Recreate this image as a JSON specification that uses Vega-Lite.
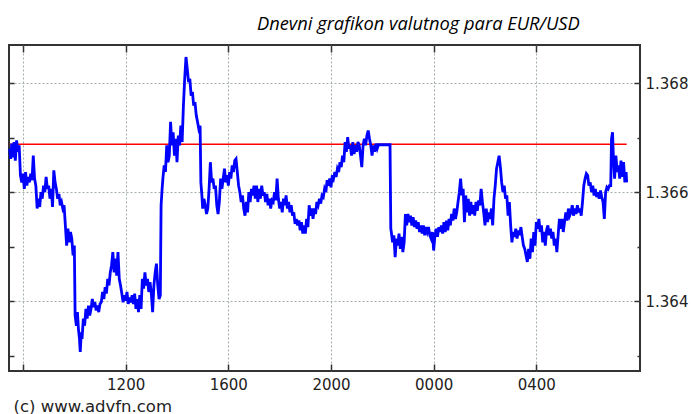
{
"$schema": "https://vega.github.io/schema/vega-lite/v6.json",
"width": 631, "height": 326,
"autosize": {"type": "none"},
"padding": {"left": 9, "top": 45, "right": 53, "bottom": 43},
"background": "white",
"title": {"text": "Dnevni grafikon valutnog para EUR/USD", "anchor": "start", "frame": "group", "dx": 248, "font": "Open Sans", "fontStyle": "italic", "fontWeight": "normal", "fontSize": 18.3, "color": "#000", "offset": 10},
"config": {"view": {"stroke": "#333", "strokeWidth": 2}},
"datasets": {
"ref": [{"h":7.48,"p":1.36688},{"h":31.52,"p":1.36688}],
"fx": [
{"h":7.48,"p":1.36680},{"h":7.52,"p":1.36661},{"h":7.56,"p":1.36689},{"h":7.6,"p":1.36664},{"h":7.65,"p":1.36692},{"h":7.7,"p":1.36658},{"h":7.75,"p":1.36695},{"h":7.8,"p":1.36674},{"h":7.85,"p":1.36686},{"h":7.9,"p":1.36631},{"h":7.95,"p":1.36618},{"h":8.0,"p":1.36634},{"h":8.05,"p":1.36606},{"h":8.1,"p":1.36637},{"h":8.15,"p":1.36612},{"h":8.2,"p":1.36628},{"h":8.25,"p":1.36618},{"h":8.3,"p":1.36634},{"h":8.35,"p":1.36622},{"h":8.4,"p":1.36667},{"h":8.45,"p":1.36625},{"h":8.5,"p":1.36612},{"h":8.55,"p":1.36570},{"h":8.6,"p":1.36588},{"h":8.65,"p":1.36573},{"h":8.7,"p":1.36600},{"h":8.75,"p":1.36588},{"h":8.8,"p":1.36612},{"h":8.85,"p":1.36600},{"h":8.9,"p":1.36628},{"h":8.95,"p":1.36606},{"h":9.0,"p":1.36612},{"h":9.05,"p":1.36588},{"h":9.1,"p":1.36606},{"h":9.15,"p":1.36573},{"h":9.2,"p":1.36640},{"h":9.25,"p":1.36618},{"h":9.3,"p":1.36606},{"h":9.35,"p":1.36588},{"h":9.4,"p":1.36597},{"h":9.45,"p":1.36576},{"h":9.5,"p":1.36582},{"h":9.55,"p":1.36570},{"h":9.6,"p":1.36576},{"h":9.65,"p":1.36539},{"h":9.7,"p":1.36502},{"h":9.75,"p":1.36533},{"h":9.8,"p":1.36508},{"h":9.85,"p":1.36527},{"h":9.9,"p":1.36515},{"h":9.95,"p":1.36484},{"h":10.0,"p":1.36502},{"h":10.03,"p":1.36374},{"h":10.08,"p":1.36355},{"h":10.12,"p":1.36380},{"h":10.16,"p":1.36349},{"h":10.2,"p":1.36331},{"h":10.23,"p":1.36307},{"h":10.27,"p":1.36343},{"h":10.3,"p":1.36331},{"h":10.35,"p":1.36368},{"h":10.4,"p":1.36355},{"h":10.45,"p":1.36386},{"h":10.5,"p":1.36368},{"h":10.55,"p":1.36392},{"h":10.6,"p":1.36374},{"h":10.65,"p":1.36386},{"h":10.7,"p":1.36404},{"h":10.75,"p":1.36389},{"h":10.8,"p":1.36398},{"h":10.85,"p":1.36383},{"h":10.9,"p":1.36392},{"h":10.95,"p":1.36380},{"h":11.0,"p":1.36395},{"h":11.05,"p":1.36398},{"h":11.1,"p":1.36417},{"h":11.15,"p":1.36404},{"h":11.2,"p":1.36426},{"h":11.25,"p":1.36414},{"h":11.3,"p":1.36441},{"h":11.35,"p":1.36429},{"h":11.4,"p":1.36453},{"h":11.45,"p":1.36466},{"h":11.5,"p":1.36490},{"h":11.55,"p":1.36453},{"h":11.6,"p":1.36478},{"h":11.65,"p":1.36447},{"h":11.7,"p":1.36490},{"h":11.75,"p":1.36441},{"h":11.8,"p":1.36429},{"h":11.85,"p":1.36414},{"h":11.9,"p":1.36398},{"h":11.95,"p":1.36411},{"h":12.0,"p":1.36401},{"h":12.05,"p":1.36417},{"h":12.1,"p":1.36395},{"h":12.15,"p":1.36407},{"h":12.2,"p":1.36398},{"h":12.25,"p":1.36411},{"h":12.3,"p":1.36395},
{"h":12.35,"p":1.36414},{"h":12.4,"p":1.36386},{"h":12.45,"p":1.36404},{"h":12.5,"p":1.36380},{"h":12.55,"p":1.36411},{"h":12.6,"p":1.36386},{"h":12.65,"p":1.36441},{"h":12.7,"p":1.36423},{"h":12.75,"p":1.36453},{"h":12.8,"p":1.36429},{"h":12.85,"p":1.36441},{"h":12.9,"p":1.36417},{"h":12.95,"p":1.36435},{"h":13.0,"p":1.36414},{"h":13.05,"p":1.36380},{"h":13.1,"p":1.36429},{"h":13.15,"p":1.36453},{"h":13.2,"p":1.36469},{"h":13.25,"p":1.36429},{"h":13.3,"p":1.36404},{"h":13.35,"p":1.36411},{"h":13.38,"p":1.36576},{"h":13.42,"p":1.36606},{"h":13.45,"p":1.36625},{"h":13.5,"p":1.36649},{"h":13.55,"p":1.36637},{"h":13.6,"p":1.36686},{"h":13.65,"p":1.36655},{"h":13.7,"p":1.36667},{"h":13.75,"p":1.36729},{"h":13.8,"p":1.36686},{"h":13.85,"p":1.36710},{"h":13.9,"p":1.36667},{"h":13.95,"p":1.36698},{"h":14.0,"p":1.36655},{"h":14.05,"p":1.36704},{"h":14.1,"p":1.36686},{"h":14.15,"p":1.36722},{"h":14.2,"p":1.36692},{"h":14.25,"p":1.36759},{"h":14.3,"p":1.36808},{"h":14.35,"p":1.36848},{"h":14.4,"p":1.36826},{"h":14.45,"p":1.36802},{"h":14.5,"p":1.36808},{"h":14.55,"p":1.36777},{"h":14.6,"p":1.36784},{"h":14.65,"p":1.36759},{"h":14.7,"p":1.36765},{"h":14.75,"p":1.36741},{"h":14.8,"p":1.36729},{"h":14.85,"p":1.36716},{"h":14.9,"p":1.36722},{"h":14.93,"p":1.36618},{"h":14.97,"p":1.36594},{"h":15.0,"p":1.36570},{"h":15.05,"p":1.36588},{"h":15.1,"p":1.36576},{"h":15.15,"p":1.36560},{"h":15.2,"p":1.36570},{"h":15.25,"p":1.36606},{"h":15.3,"p":1.36655},{"h":15.35,"p":1.36618},{"h":15.4,"p":1.36625},{"h":15.45,"p":1.36606},{"h":15.5,"p":1.36612},{"h":15.55,"p":1.36576},{"h":15.6,"p":1.36560},{"h":15.65,"p":1.36582},{"h":15.7,"p":1.36625},{"h":15.75,"p":1.36606},{"h":15.8,"p":1.36625},{"h":15.85,"p":1.36643},{"h":15.9,"p":1.36618},{"h":15.95,"p":1.36631},{"h":16.0,"p":1.36612},{"h":16.05,"p":1.36637},{"h":16.1,"p":1.36625},{"h":16.15,"p":1.36649},{"h":16.2,"p":1.36637},{"h":16.25,"p":1.36658},{"h":16.3,"p":1.36661},{"h":16.35,"p":1.36637},{"h":16.4,"p":1.36612},{"h":16.45,"p":1.36600},{"h":16.5,"p":1.36582},{"h":16.55,"p":1.36594},{"h":16.6,"p":1.36570},{"h":16.65,"p":1.36557},{"h":16.7,"p":1.36582},{"h":16.75,"p":1.36563},{"h":16.8,"p":1.36600},{"h":16.85,"p":1.36582},{"h":16.9,"p":1.36606},{"h":16.95,"p":1.36594},{"h":17.0,"p":1.36612},{"h":17.05,"p":1.36588},{"h":17.1,"p":1.36612},
{"h":17.15,"p":1.36582},{"h":17.2,"p":1.36606},{"h":17.25,"p":1.36588},{"h":17.3,"p":1.36612},{"h":17.35,"p":1.36594},{"h":17.4,"p":1.36600},{"h":17.45,"p":1.36582},{"h":17.5,"p":1.36597},{"h":17.55,"p":1.36576},{"h":17.6,"p":1.36588},{"h":17.65,"p":1.36570},{"h":17.7,"p":1.36585},{"h":17.75,"p":1.36582},{"h":17.8,"p":1.36600},{"h":17.85,"p":1.36585},{"h":17.9,"p":1.36625},{"h":17.95,"p":1.36588},{"h":18.0,"p":1.36570},{"h":18.05,"p":1.36582},{"h":18.1,"p":1.36563},{"h":18.15,"p":1.36588},{"h":18.2,"p":1.36576},{"h":18.25,"p":1.36594},{"h":18.3,"p":1.36570},{"h":18.35,"p":1.36582},{"h":18.4,"p":1.36563},{"h":18.45,"p":1.36576},{"h":18.5,"p":1.36557},{"h":18.55,"p":1.36563},{"h":18.6,"p":1.36542},{"h":18.65,"p":1.36551},{"h":18.7,"p":1.36539},{"h":18.75,"p":1.36548},{"h":18.8,"p":1.36530},{"h":18.85,"p":1.36545},{"h":18.9,"p":1.36524},{"h":18.95,"p":1.36539},{"h":19.0,"p":1.36524},{"h":19.05,"p":1.36551},{"h":19.1,"p":1.36536},{"h":19.15,"p":1.36576},{"h":19.2,"p":1.36557},{"h":19.25,"p":1.36570},{"h":19.3,"p":1.36551},{"h":19.35,"p":1.36570},{"h":19.4,"p":1.36560},{"h":19.45,"p":1.36582},{"h":19.5,"p":1.36576},{"h":19.55,"p":1.36588},{"h":19.6,"p":1.36579},{"h":19.65,"p":1.36594},{"h":19.7,"p":1.36591},{"h":19.75,"p":1.36606},{"h":19.8,"p":1.36600},{"h":19.85,"p":1.36622},{"h":19.9,"p":1.36612},{"h":19.95,"p":1.36625},{"h":20.0,"p":1.36609},{"h":20.05,"p":1.36631},{"h":20.1,"p":1.36625},{"h":20.15,"p":1.36637},{"h":20.2,"p":1.36628},{"h":20.25,"p":1.36643},{"h":20.3,"p":1.36637},{"h":20.35,"p":1.36655},{"h":20.4,"p":1.36646},{"h":20.45,"p":1.36667},{"h":20.5,"p":1.36655},{"h":20.55,"p":1.36692},{"h":20.6,"p":1.36674},{"h":20.65,"p":1.36701},{"h":20.7,"p":1.36680},{"h":20.75,"p":1.36686},{"h":20.8,"p":1.36667},{"h":20.85,"p":1.36692},{"h":20.9,"p":1.36670},{"h":20.95,"p":1.36686},{"h":21.0,"p":1.36674},{"h":21.05,"p":1.36692},{"h":21.1,"p":1.36686},{"h":21.15,"p":1.36667},{"h":21.2,"p":1.36646},{"h":21.25,"p":1.36686},{"h":21.3,"p":1.36698},{"h":21.35,"p":1.36686},{"h":21.4,"p":1.36704},{"h":21.45,"p":1.36713},{"h":21.5,"p":1.36698},{"h":21.55,"p":1.36686},{"h":21.6,"p":1.36667},{"h":21.65,"p":1.36686},{"h":21.7,"p":1.36674},{"h":21.75,"p":1.36689},{"h":21.8,"p":1.36680},{"h":21.85,"p":1.36687},{"h":21.9,"p":1.36687},{"h":22.3,"p":1.36687},{"h":22.33,"p":1.36533},
{"h":22.35,"p":1.36527},{"h":22.4,"p":1.36508},{"h":22.45,"p":1.36521},{"h":22.5,"p":1.36481},{"h":22.55,"p":1.36515},{"h":22.6,"p":1.36502},{"h":22.65,"p":1.36524},{"h":22.7,"p":1.36496},{"h":22.75,"p":1.36518},{"h":22.8,"p":1.36490},{"h":22.85,"p":1.36508},{"h":22.9,"p":1.36560},{"h":22.95,"p":1.36539},{"h":23.0,"p":1.36560},{"h":23.05,"p":1.36545},{"h":23.1,"p":1.36557},{"h":23.15,"p":1.36539},{"h":23.2,"p":1.36554},{"h":23.25,"p":1.36536},{"h":23.3,"p":1.36548},{"h":23.35,"p":1.36533},{"h":23.4,"p":1.36545},{"h":23.45,"p":1.36527},{"h":23.5,"p":1.36539},{"h":23.55,"p":1.36524},{"h":23.6,"p":1.36539},{"h":23.65,"p":1.36521},{"h":23.7,"p":1.36536},{"h":23.75,"p":1.36527},{"h":23.8,"p":1.36536},{"h":23.85,"p":1.36521},{"h":23.9,"p":1.36515},{"h":23.95,"p":1.36527},{"h":24.0,"p":1.36493},{"h":24.05,"p":1.36521},{"h":24.1,"p":1.36533},{"h":24.15,"p":1.36518},{"h":24.2,"p":1.36536},{"h":24.25,"p":1.36527},{"h":24.3,"p":1.36539},{"h":24.35,"p":1.36524},{"h":24.4,"p":1.36545},{"h":24.45,"p":1.36527},{"h":24.5,"p":1.36548},{"h":24.55,"p":1.36530},{"h":24.6,"p":1.36551},{"h":24.65,"p":1.36539},{"h":24.7,"p":1.36560},{"h":24.75,"p":1.36548},{"h":24.8,"p":1.36570},{"h":24.85,"p":1.36551},{"h":24.9,"p":1.36563},{"h":24.95,"p":1.36582},{"h":25.0,"p":1.36600},{"h":25.05,"p":1.36625},{"h":25.1,"p":1.36594},{"h":25.15,"p":1.36606},{"h":25.2,"p":1.36545},{"h":25.25,"p":1.36594},{"h":25.3,"p":1.36563},{"h":25.35,"p":1.36588},{"h":25.4,"p":1.36557},{"h":25.45,"p":1.36582},{"h":25.5,"p":1.36560},{"h":25.55,"p":1.36576},{"h":25.6,"p":1.36557},{"h":25.65,"p":1.36582},{"h":25.7,"p":1.36566},{"h":25.75,"p":1.36585},{"h":25.8,"p":1.36576},{"h":25.85,"p":1.36606},{"h":25.9,"p":1.36582},{"h":25.95,"p":1.36563},{"h":26.0,"p":1.36539},{"h":26.05,"p":1.36570},{"h":26.1,"p":1.36545},{"h":26.15,"p":1.36563},{"h":26.2,"p":1.36551},{"h":26.25,"p":1.36570},{"h":26.3,"p":1.36539},{"h":26.35,"p":1.36588},{"h":26.4,"p":1.36612},{"h":26.45,"p":1.36643},{"h":26.5,"p":1.36655},{"h":26.55,"p":1.36667},{"h":26.6,"p":1.36646},{"h":26.65,"p":1.36618},{"h":26.7,"p":1.36600},{"h":26.75,"p":1.36612},{"h":26.8,"p":1.36588},{"h":26.85,"p":1.36594},{"h":26.9,"p":1.36557},{"h":26.95,"p":1.36582},
{"h":27.0,"p":1.36539},{"h":27.05,"p":1.36508},{"h":27.1,"p":1.36527},{"h":27.15,"p":1.36518},{"h":27.2,"p":1.36533},{"h":27.25,"p":1.36515},{"h":27.3,"p":1.36530},{"h":27.35,"p":1.36521},{"h":27.4,"p":1.36536},{"h":27.45,"p":1.36518},{"h":27.5,"p":1.36502},{"h":27.55,"p":1.36496},{"h":27.6,"p":1.36484},{"h":27.65,"p":1.36472},{"h":27.7,"p":1.36496},{"h":27.75,"p":1.36478},{"h":27.8,"p":1.36515},{"h":27.85,"p":1.36490},{"h":27.9,"p":1.36527},{"h":27.95,"p":1.36502},{"h":28.0,"p":1.36545},{"h":28.05,"p":1.36533},{"h":28.1,"p":1.36551},{"h":28.15,"p":1.36527},{"h":28.2,"p":1.36539},{"h":28.25,"p":1.36508},{"h":28.3,"p":1.36527},{"h":28.35,"p":1.36502},{"h":28.4,"p":1.36530},{"h":28.45,"p":1.36539},{"h":28.5,"p":1.36521},{"h":28.55,"p":1.36533},{"h":28.6,"p":1.36515},{"h":28.65,"p":1.36527},{"h":28.7,"p":1.36502},{"h":28.75,"p":1.36515},{"h":28.8,"p":1.36490},{"h":28.85,"p":1.36521},{"h":28.9,"p":1.36551},{"h":28.95,"p":1.36533},{"h":29.0,"p":1.36551},{"h":29.05,"p":1.36527},{"h":29.1,"p":1.36545},{"h":29.15,"p":1.36563},{"h":29.2,"p":1.36548},{"h":29.25,"p":1.36570},{"h":29.3,"p":1.36557},{"h":29.35,"p":1.36563},{"h":29.4,"p":1.36576},{"h":29.45,"p":1.36557},{"h":29.5,"p":1.36570},{"h":29.55,"p":1.36560},{"h":29.6,"p":1.36576},{"h":29.65,"p":1.36563},{"h":29.7,"p":1.36570},{"h":29.75,"p":1.36557},{"h":29.8,"p":1.36582},{"h":29.85,"p":1.36612},{"h":29.9,"p":1.36625},{"h":29.95,"p":1.36634},{"h":30.0,"p":1.36631},{"h":30.05,"p":1.36612},{"h":30.1,"p":1.36618},{"h":30.15,"p":1.36600},{"h":30.2,"p":1.36612},{"h":30.25,"p":1.36594},{"h":30.3,"p":1.36606},{"h":30.35,"p":1.36591},{"h":30.4,"p":1.36600},{"h":30.45,"p":1.36588},{"h":30.5,"p":1.36603},{"h":30.55,"p":1.36591},{"h":30.6,"p":1.36582},{"h":30.65,"p":1.36551},{"h":30.7,"p":1.36600},{"h":30.75,"p":1.36609},{"h":30.8,"p":1.36606},{"h":30.85,"p":1.36612},{"h":30.9,"p":1.36612},{"h":30.93,"p":1.36698},{"h":30.97,"p":1.36710},{"h":31.0,"p":1.36667},{"h":31.05,"p":1.36625},{"h":31.1,"p":1.36667},{"h":31.15,"p":1.36637},{"h":31.2,"p":1.36649},{"h":31.25,"p":1.36625},{"h":31.3,"p":1.36658},{"h":31.35,"p":1.36628},{"h":31.4,"p":1.36655},{"h":31.45,"p":1.36618},{"h":31.5,"p":1.36637},{"h":31.52,"p":1.36618}
]},
"layer": [
{"data": {"name": "ref"},
 "mark": {"type": "line", "color": "#ff0000", "strokeWidth": 1.5},
 "encoding": {
  "x": {"field": "h", "type": "quantitative", "scale": {"domain": [7.454, 32.04], "nice": false, "zero": false},
        "axis": {"orient": "top", "values": [8,12,16,20,24,28], "labels": false, "grid": false, "domain": false, "tickSize": -7, "tickColor": "#333", "tickWidth": 1.5, "title": null}},
  "y": {"field": "p", "type": "quantitative", "scale": {"domain": [1.36272, 1.3687], "nice": false, "zero": false},
        "axis": {"orient": "left", "values": [1.363,1.364,1.365,1.366,1.367,1.368], "labels": false, "grid": false, "domain": false, "tickSize": -5, "tickColor": "#333", "tickWidth": 1.5, "title": null}}
 }},
{"data": {"name": "fx"},
 "mark": {"type": "line", "color": "#0000ff", "strokeWidth": 2.8},
 "encoding": {
  "x": {"field": "h", "type": "quantitative", "scale": {"domain": [7.454, 32.04], "nice": false, "zero": false},
        "axis": {"orient": "bottom", "values": [8,12,16,20,24,28],
                 "labelExpr": "datum.value == 8 ? '' : (((datum.value % 24) < 10 ? '0' : '') + (datum.value % 24) + '00')",
                 "labelOverlap": false, "labelFlush": false, "labelFont": "DejaVu Sans", "labelFontSize": 15, "labelColor": "#222", "labelPadding": 13,
                 "grid": true, "gridColor": "#a3aeae", "gridDash": [2,2], "gridWidth": 1,
                 "domain": false, "tickSize": -7, "tickColor": "#333", "tickWidth": 1.5,
                 "title": "(c) www.advfn.com", "titleFont": "DejaVu Sans", "titleFontSize": 16.5, "titleFontWeight": "normal", "titleColor": "#222",
                 "titleAnchor": "start", "titleAlign": "left", "titleBaseline": "middle", "titleX": 4, "titleY": 35}},
  "y": {"field": "p", "type": "quantitative", "scale": {"domain": [1.36272, 1.3687], "nice": false, "zero": false},
        "axis": {"orient": "right", "values": [1.363,1.364,1.365,1.366,1.367,1.368],
                 "labelExpr": "round(datum.value*1000) % 2 == 1 ? '' : format(datum.value, '.3f')",
                 "labelOverlap": false, "labelFlush": false, "labelFont": "DejaVu Sans", "labelFontSize": 15, "labelColor": "#222", "labelPadding": 11,
                 "grid": true, "gridColor": "#a3aeae", "gridDash": [2,2], "gridWidth": 1,
                 "gridOpacity": {"condition": {"test": "round(datum.value*1000) % 2 == 1", "value": 0}, "value": 1},
                 "domain": false, "tickSize": {"condition": {"test": "round(datum.value*1000) % 2 == 1", "value": -3}, "value": -6},
                 "tickColor": "#333", "tickWidth": 1.5, "title": null}}
 }}
],
"resolve": {"axis": {"x": "independent", "y": "independent"}}
}
